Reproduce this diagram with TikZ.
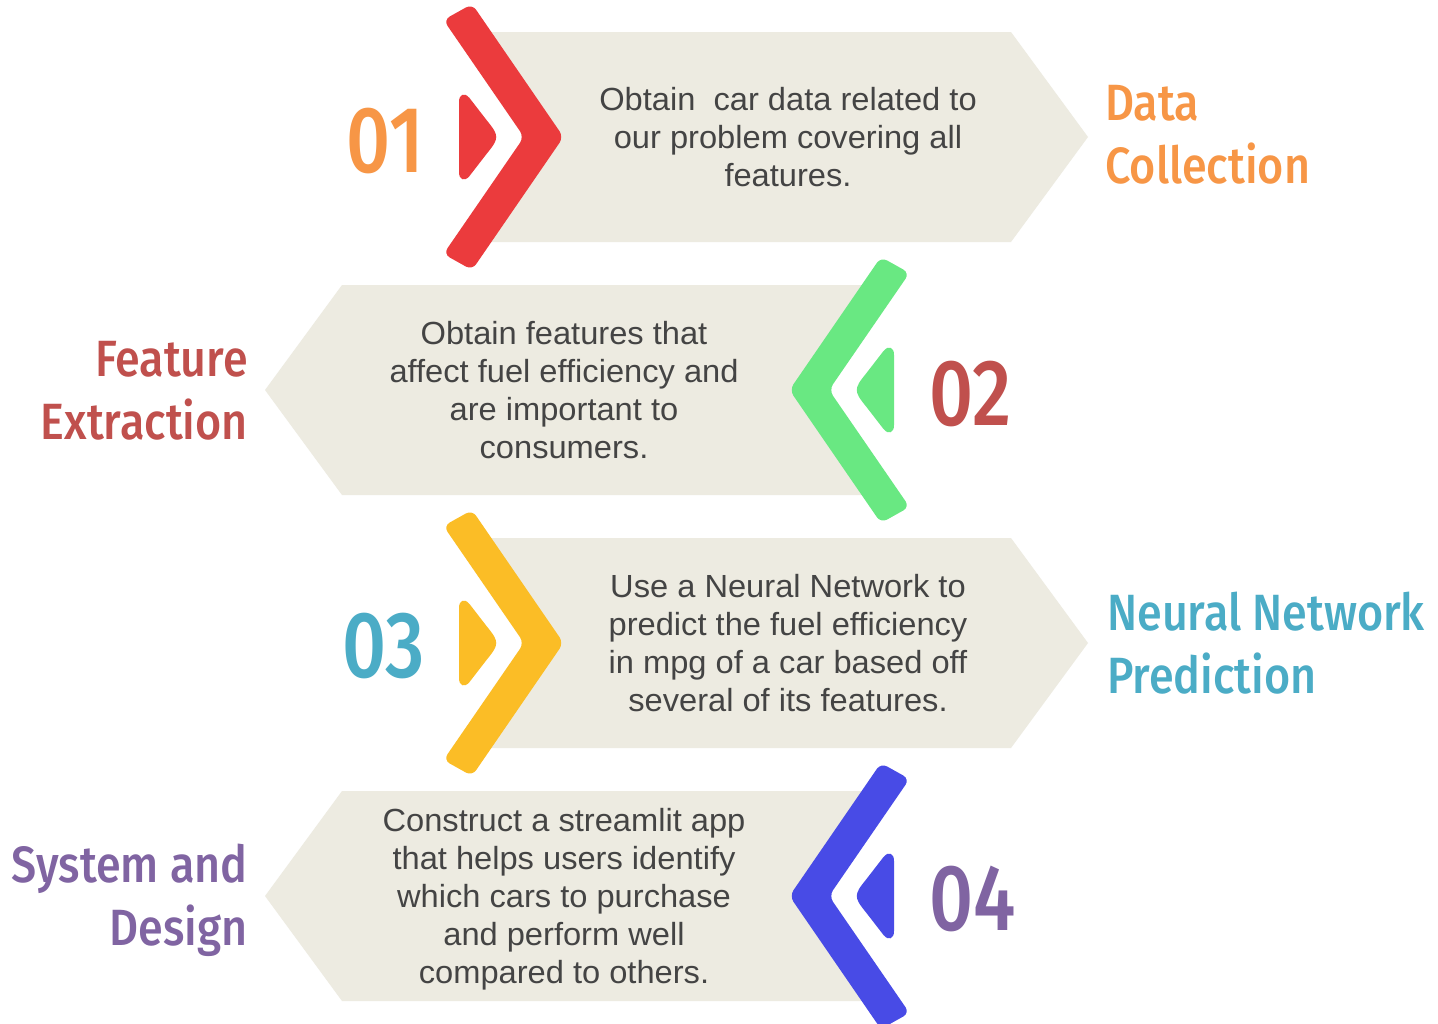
\documentclass[tikz,border=0pt]{standalone}
\usepackage{fontspec}
\setmainfont{Liberation Sans}[FakeStretch=1.02]
\newfontfamily\headfont{Fira Sans Medium}[FakeStretch=0.88, Numbers=Proportional]
\newfontfamily\numfont{Fira Sans Medium}[FakeStretch=0.82, Numbers=Proportional]

\definecolor{boxgray}{HTML}{EDEBE1}
\definecolor{txtgray}{HTML}{444444}
\definecolor{chevred}{HTML}{EB3B3D}
\definecolor{chevgreen}{HTML}{69E882}
\definecolor{chevyellow}{HTML}{FBBD26}
\definecolor{chevblue}{HTML}{484BE6}
\definecolor{numorange}{HTML}{F79646}
\definecolor{numred}{HTML}{C0504D}
\definecolor{numteal}{HTML}{4BACC6}
\definecolor{numpurple}{HTML}{8064A2}

% one stage: beige arrow band, chevron and small tab
% #1 = centre y, #2 = +1 (points right) / -1 (points left), #3 = chevron colour
\newcommand\stagerow[3]{%
  \begin{scope}[shift={(676.5,#1)}, xscale=#2]
    \fill[boxgray] (-186,-105) -- (334.5,-105) -- (411.5,0) -- (334.5,105)
      -- (-186,105) -- (-130,0) -- cycle;
    \fill[#3, rounded corners=7pt] (-233,-117) -- (-204.4,-133) -- (-113,0)
      -- (-204.4,133) -- (-233,117) -- (-152.5,0) -- cycle;
    \fill[#3] (-217.5,35) -- (-217.5,-35)
      .. controls (-217.5,-43) and (-212,-45) .. (-207,-39) -- (-190,-17)
      .. controls (-177,-1) and (-177,1) .. (-190,17) -- (-207,39)
      .. controls (-212,45) and (-217.5,43) .. (-217.5,35) -- cycle;
  \end{scope}}

\tikzset{
  body/.style={align=center, text=txtgray, inner sep=0pt, text depth=0pt,
    font=\fontsize{32}{38}\selectfont},
  title/.style={inner sep=0pt, text depth=0pt,
    font=\headfont\fontsize{51}{63}\selectfont},
  num/.style={inner sep=0pt, font=\numfont\fontsize{94}{94}\selectfont}
}

\begin{document}
\begin{tikzpicture}[x=1pt,y=-1pt]
\useasboundingbox (0,0) rectangle (1438,1023);
\clip (0,0) rectangle (1438,1023);
\fill[white] (0,0) rectangle (1438,1023);

\stagerow{137}{1}{chevred}
\stagerow{390}{-1}{chevgreen}
\stagerow{643}{1}{chevyellow}
\stagerow{896}{-1}{chevblue}

% numbers
\node[num, text=numorange, anchor=base east] (n1) at (424,172) {01};
\node[num, text=numred, anchor=base west] (n2) at (929,425) {02};
\node[num, text=numteal, anchor=base east] (n3) at (425,677) {03};
\node[num, text=numpurple, anchor=base west] (n4) at (929,930) {04};

% descriptions
\node[body] (t1) at (788,137) {Obtain\ \ car data related to\\our problem covering all\\features.};
\node[body] (t2) at (564,390) {Obtain features that\\affect fuel efficiency and\\are important to\\consumers.};
\node[body] (t3) at (788,643) {Use a Neural Network to\\predict the fuel efficiency\\in mpg of a car based off\\several of its features.};
\node[body] (t4) at (564,896) {Construct a streamlit app\\that helps users identify\\which cars to purchase\\and perform well\\compared to others.};

% stage titles
\node[title, text=numorange, align=left, anchor=west] (h1) at (1105,134) {Data\\Collection};
\node[title, text=numred, align=right, anchor=east] (h2) at (248,390) {Feature\\Extraction};
\node[title, text=numteal, align=left, anchor=west] (h3) at (1107,643) {Neural Network\\Prediction};
\node[title, text=numpurple, align=right, anchor=east] (h4) at (248,895) {System and\\Design};
\end{tikzpicture}
\end{document}
